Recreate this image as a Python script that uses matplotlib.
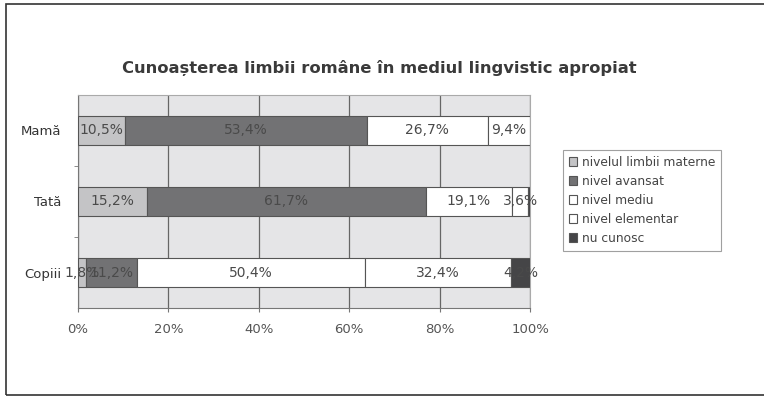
import matplotlib
matplotlib.use("Agg")
import matplotlib.pyplot as plt
from matplotlib.patches import Rectangle
import numpy as np

plt.rcParams['font.family'] = ['DejaVu Sans']

categories = ["Mamă", "Tată", "Copiii"]
series = ["nivelul limbii materne", "nivel avansat", "nivel mediu", "nivel elementar", "nu cunosc"]
values = {
    "nivelul limbii materne": [10.5, 15.2, 1.8],
    "nivel avansat":          [53.4, 61.7, 11.2],
    "nivel mediu":            [26.7, 19.1, 50.4],
    "nivel elementar":        [9.4, 3.6, 32.4],
    "nu cunosc":              [0.0, 0.4, 4.2],
}
labels = {
    "nivelul limbii materne": ["10,5%", "15,2%", "1,8%"],
    "nivel avansat":          ["53,4%", "61,7%", "11,2%"],
    "nivel mediu":            ["26,7%", "19,1%", "50,4%"],
    "nivel elementar":        ["9,4%", "3,6%", "32,4%"],
    "nu cunosc":              ["", "", "4,2%"],
}
colors = ["#c4c4c6", "#727274", "#ffffff", "#ffffff", "#454547"]
xticks = [0, 20, 40, 60, 80, 100]
xticklabels = ["0%", "20%", "40%", "60%", "80%", "100%"]
title = "Cunoașterea limbii române în mediul lingvistic apropiat"

fig = plt.figure(figsize=(7.64, 3.97), dpi=100)
fig.patches.append(Rectangle((0.008, 0.005), 1.2, 0.984, transform=fig.transFigure,
                             fill=False, edgecolor="#333333", linewidth=1.2))
ax = fig.add_axes([0.102, 0.224, 0.592, 0.537])
ax.set_facecolor("#e5e5e7")

y = np.arange(len(categories))
left = np.zeros(len(categories))
for s, c in zip(series, colors):
    v = np.array(values[s])
    ax.barh(y, v, left=left, height=0.41, color=c, edgecolor="#555555",
            linewidth=0.8, label=s, zorder=3)
    for i in range(len(categories)):
        if labels[s][i]:
            ax.text(left[i] + v[i] / 2, y[i], labels[s][i], ha="center", va="center",
                    fontsize=10, color="#4a4a4a", zorder=4)
    left += v

ax.set_xlim(0, 100)
ax.set_ylim(2.5, -0.5)
ax.set_xticks(xticks)
ax.set_xticklabels(xticklabels, fontsize=9.5, color="#555555")
ax.set_yticks(y)
ax.set_yticklabels(categories, fontsize=9.5, color="#333333")
ax.set_yticks([0.5, 1.5], minor=True)
ax.tick_params(axis="y", which="major", length=0, pad=12)
ax.tick_params(axis="y", which="minor", length=3, color="#777777")
ax.tick_params(axis="x", length=3, color="#777777", pad=8)
ax.grid(axis="x", color="#666666", linewidth=0.9, zorder=1)
for sp in ["top", "right"]:
    ax.spines[sp].set_color("#aaaaaa")
for sp in ["left", "bottom"]:
    ax.spines[sp].set_color("#777777")

fig.text(0.497, 0.828, title, ha="center", va="center", fontsize=11.8,
         fontweight="bold", color="#3a3a3a")

leg = fig.legend(loc="upper left", bbox_to_anchor=(0.737, 0.622), frameon=True,
                 borderaxespad=0, fontsize=8.8, handlelength=0.7, handleheight=0.7,
                 handletextpad=0.4, labelspacing=0.5, borderpad=0.45, fancybox=False,
                 labelcolor="#444444")
leg.get_frame().set_edgecolor("#888888")
leg.get_frame().set_linewidth(0.8)

fig.savefig("out.png", dpi=100)
